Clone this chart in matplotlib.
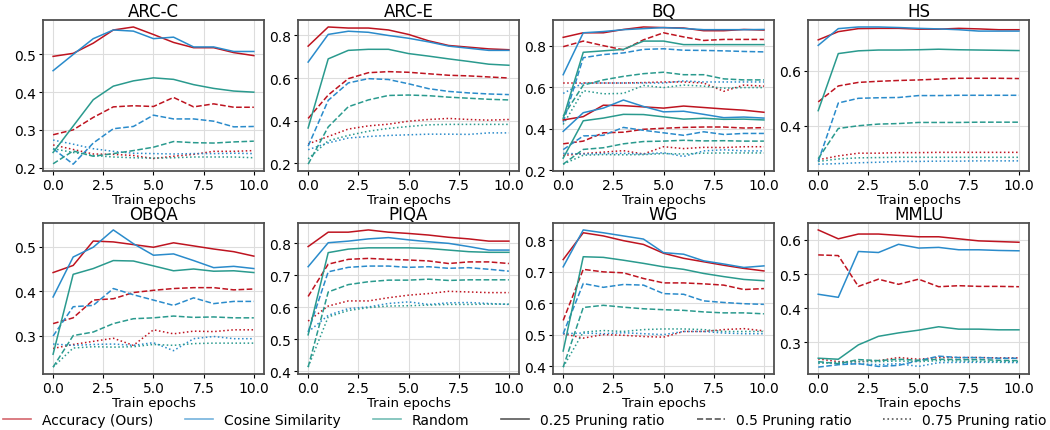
import matplotlib.pyplot as plt
from matplotlib.lines import Line2D

epochs = list(range(11))
ratios = [0.25, 0.5, 0.75]
styles = ['-', '--', ':']
methods = ["Accuracy (Ours)", "Cosine Similarity", "Random"]
colors = ["#be1420", "#2a8bcb", "#2a9a8e"]
titles = ["ARC-C", "ARC-E", "BQ", "HS", "OBQA", "PIQA", "WG", "MMLU"]

# each method: rows = pruning ratio 0.25 / 0.5 / 0.75
arcc_acc = [[0.495, 0.503, 0.53, 0.565, 0.573, 0.553, 0.532, 0.518, 0.518, 0.505, 0.497],
            [0.287, 0.30, 0.333, 0.361, 0.364, 0.362, 0.386, 0.361, 0.369, 0.36, 0.36],
            [0.26, 0.248, 0.236, 0.235, 0.232, 0.224, 0.23, 0.235, 0.243, 0.243, 0.245]]
arcc_cos = [[0.457, 0.5, 0.542, 0.565, 0.562, 0.542, 0.546, 0.52, 0.52, 0.508, 0.508],
            [0.25, 0.209, 0.265, 0.303, 0.309, 0.339, 0.329, 0.329, 0.323, 0.308, 0.309],
            [0.273, 0.262, 0.25, 0.243, 0.238, 0.237, 0.236, 0.237, 0.237, 0.238, 0.237]]
arcc_rand = [[0.24, 0.31, 0.38, 0.416, 0.43, 0.438, 0.434, 0.42, 0.41, 0.403, 0.40],
             [0.21, 0.244, 0.23, 0.237, 0.245, 0.254, 0.269, 0.266, 0.265, 0.268, 0.27],
             [0.25, 0.24, 0.232, 0.228, 0.226, 0.225, 0.226, 0.228, 0.228, 0.228, 0.226]]

arce_acc = [[0.75, 0.84, 0.835, 0.835, 0.826, 0.805, 0.775, 0.753, 0.745, 0.737, 0.733],
            [0.41, 0.52, 0.597, 0.625, 0.63, 0.627, 0.62, 0.613, 0.61, 0.605, 0.60],
            [0.29, 0.325, 0.36, 0.375, 0.383, 0.397, 0.405, 0.41, 0.405, 0.402, 0.405]]
arce_cos = [[0.675, 0.805, 0.82, 0.815, 0.80, 0.787, 0.77, 0.75, 0.74, 0.73, 0.73],
            [0.28, 0.495, 0.577, 0.597, 0.593, 0.573, 0.55, 0.537, 0.53, 0.525, 0.522],
            [0.263, 0.295, 0.318, 0.325, 0.33, 0.333, 0.336, 0.336, 0.335, 0.342, 0.342]]
arce_rand = [[0.365, 0.69, 0.73, 0.735, 0.735, 0.715, 0.703, 0.69, 0.678, 0.665, 0.66],
             [0.195, 0.37, 0.465, 0.497, 0.518, 0.52, 0.517, 0.51, 0.505, 0.5, 0.497],
             [0.22, 0.305, 0.33, 0.35, 0.363, 0.372, 0.38, 0.382, 0.382, 0.382, 0.382]]

bq_acc = [[0.84, 0.862, 0.862, 0.878, 0.89, 0.887, 0.885, 0.872, 0.872, 0.878, 0.875],
          [0.795, 0.822, 0.80, 0.78, 0.828, 0.862, 0.842, 0.825, 0.83, 0.83, 0.83],
          [0.62, 0.62, 0.62, 0.62, 0.622, 0.625, 0.625, 0.62, 0.58, 0.61, 0.605]]
bq_cos = [[0.66, 0.862, 0.868, 0.877, 0.882, 0.887, 0.883, 0.877, 0.877, 0.877, 0.878],
          [0.43, 0.742, 0.757, 0.765, 0.782, 0.785, 0.778, 0.777, 0.775, 0.772, 0.77],
          [0.57, 0.62, 0.62, 0.62, 0.62, 0.62, 0.63, 0.625, 0.625, 0.625, 0.625]]
bq_rand = [[0.45, 0.768, 0.775, 0.782, 0.822, 0.822, 0.805, 0.805, 0.805, 0.805, 0.805],
           [0.46, 0.61, 0.635, 0.652, 0.665, 0.672, 0.66, 0.66, 0.64, 0.635, 0.635],
           [0.42, 0.583, 0.568, 0.57, 0.608, 0.598, 0.61, 0.605, 0.595, 0.598, 0.598]]

hs_acc = [[0.713, 0.743, 0.754, 0.755, 0.755, 0.752, 0.752, 0.755, 0.753, 0.75, 0.75],
          [0.487, 0.545, 0.558, 0.562, 0.565, 0.567, 0.57, 0.573, 0.573, 0.573, 0.572],
          [0.276, 0.29, 0.30, 0.30, 0.302, 0.302, 0.303, 0.303, 0.303, 0.303, 0.303]]
hs_cos = [[0.693, 0.754, 0.76, 0.76, 0.758, 0.755, 0.753, 0.75, 0.745, 0.745, 0.745],
          [0.27, 0.483, 0.50, 0.502, 0.503, 0.51, 0.51, 0.511, 0.511, 0.511, 0.511],
          [0.26, 0.262, 0.265, 0.267, 0.27, 0.27, 0.271, 0.271, 0.272, 0.272, 0.272]]
hs_rand = [[0.455, 0.663, 0.673, 0.676, 0.676, 0.677, 0.679, 0.677, 0.676, 0.675, 0.674],
           [0.28, 0.39, 0.40, 0.406, 0.408, 0.412, 0.412, 0.412, 0.413, 0.413, 0.413],
           [0.27, 0.279, 0.283, 0.284, 0.285, 0.285, 0.285, 0.285, 0.285, 0.285, 0.285]]

obqa_acc = [[0.442, 0.458, 0.513, 0.511, 0.505, 0.499, 0.509, 0.502, 0.495, 0.489, 0.479],
            [0.327, 0.34, 0.38, 0.383, 0.397, 0.402, 0.406, 0.408, 0.408, 0.403, 0.405],
            [0.271, 0.28, 0.287, 0.294, 0.278, 0.313, 0.304, 0.31, 0.309, 0.313, 0.313]]
obqa_cos = [[0.387, 0.477, 0.499, 0.538, 0.507, 0.481, 0.484, 0.469, 0.453, 0.456, 0.451],
            [0.299, 0.365, 0.368, 0.406, 0.392, 0.38, 0.368, 0.385, 0.372, 0.377, 0.377],
            [0.281, 0.278, 0.28, 0.281, 0.278, 0.284, 0.266, 0.293, 0.298, 0.293, 0.293]]
obqa_rand = [[0.258, 0.438, 0.451, 0.469, 0.468, 0.457, 0.446, 0.45, 0.445, 0.446, 0.442],
             [0.229, 0.30, 0.308, 0.327, 0.338, 0.34, 0.344, 0.341, 0.342, 0.34, 0.34],
             [0.229, 0.272, 0.275, 0.274, 0.275, 0.28, 0.278, 0.282, 0.283, 0.283, 0.283]]

piqa_acc = [[0.79, 0.835, 0.835, 0.842, 0.835, 0.831, 0.826, 0.819, 0.814, 0.807, 0.807],
            [0.634, 0.735, 0.75, 0.753, 0.75, 0.748, 0.745, 0.737, 0.742, 0.742, 0.737],
            [0.557, 0.604, 0.62, 0.62, 0.63, 0.638, 0.643, 0.65, 0.648, 0.646, 0.646]]
piqa_cos = [[0.727, 0.802, 0.807, 0.814, 0.818, 0.811, 0.805, 0.80, 0.79, 0.779, 0.779],
            [0.523, 0.711, 0.725, 0.729, 0.729, 0.725, 0.727, 0.722, 0.724, 0.719, 0.713],
            [0.523, 0.575, 0.596, 0.601, 0.612, 0.617, 0.609, 0.614, 0.615, 0.612, 0.609]]
piqa_rand = [[0.514, 0.771, 0.782, 0.786, 0.786, 0.786, 0.784, 0.779, 0.774, 0.772, 0.772],
             [0.413, 0.648, 0.671, 0.68, 0.685, 0.685, 0.688, 0.684, 0.686, 0.686, 0.686],
             [0.413, 0.57, 0.59, 0.599, 0.604, 0.605, 0.607, 0.609, 0.609, 0.61, 0.61]]

wg_acc = [[0.738, 0.823, 0.813, 0.798, 0.786, 0.758, 0.742, 0.731, 0.72, 0.71, 0.702],
          [0.545, 0.707, 0.699, 0.696, 0.678, 0.664, 0.664, 0.661, 0.657, 0.643, 0.646],
          [0.503, 0.489, 0.5, 0.498, 0.494, 0.492, 0.51, 0.51, 0.516, 0.519, 0.512]]
wg_cos = [[0.715, 0.832, 0.823, 0.813, 0.803, 0.76, 0.755, 0.734, 0.724, 0.713, 0.718],
          [0.503, 0.662, 0.65, 0.659, 0.657, 0.63, 0.628, 0.607, 0.602, 0.598, 0.596],
          [0.503, 0.505, 0.503, 0.506, 0.503, 0.5, 0.51, 0.51, 0.505, 0.503, 0.503]]
wg_rand = [[0.448, 0.747, 0.745, 0.736, 0.726, 0.715, 0.707, 0.694, 0.684, 0.675, 0.671],
           [0.397, 0.586, 0.593, 0.587, 0.582, 0.579, 0.577, 0.572, 0.569, 0.569, 0.566],
           [0.397, 0.508, 0.513, 0.51, 0.516, 0.518, 0.518, 0.516, 0.51, 0.51, 0.51]]

mmlu_acc = [[0.629, 0.603, 0.617, 0.617, 0.613, 0.609, 0.609, 0.603, 0.597, 0.595, 0.593],
            [0.556, 0.554, 0.464, 0.485, 0.47, 0.485, 0.463, 0.466, 0.464, 0.464, 0.463],
            [0.252, 0.244, 0.244, 0.247, 0.256, 0.251, 0.256, 0.256, 0.256, 0.255, 0.255]]
mmlu_cos = [[0.441, 0.432, 0.566, 0.563, 0.587, 0.576, 0.578, 0.571, 0.571, 0.569, 0.568],
            [0.228, 0.235, 0.238, 0.23, 0.233, 0.247, 0.26, 0.256, 0.256, 0.254, 0.254],
            [0.242, 0.239, 0.238, 0.235, 0.238, 0.23, 0.241, 0.242, 0.242, 0.242, 0.241]]
mmlu_rand = [[0.254, 0.251, 0.293, 0.318, 0.328, 0.336, 0.346, 0.339, 0.339, 0.337, 0.337],
             [0.244, 0.238, 0.25, 0.247, 0.251, 0.248, 0.251, 0.25, 0.25, 0.248, 0.247],
             [0.239, 0.242, 0.244, 0.244, 0.246, 0.244, 0.247, 0.246, 0.245, 0.244, 0.244]]

# BQ panel in the original also carries the OBQA curves
panels = [
    [(arcc_acc, arcc_cos, arcc_rand)],
    [(arce_acc, arce_cos, arce_rand)],
    [(bq_acc, bq_cos, bq_rand), (obqa_acc, obqa_cos, obqa_rand)],
    [(hs_acc, hs_cos, hs_rand)],
    [(obqa_acc, obqa_cos, obqa_rand)],
    [(piqa_acc, piqa_cos, piqa_rand)],
    [(wg_acc, wg_cos, wg_rand)],
    [(mmlu_acc, mmlu_cos, mmlu_rand)],
]

fig, axes = plt.subplots(2, 4, figsize=(10.5, 4.31), dpi=100)
fig.subplots_adjust(left=0.041, right=0.98, top=0.951, bottom=0.13,
                    wspace=0.155, hspace=0.345)

for ax, title, groups in zip(axes.flat, titles, panels):
    for group in groups:
        for series, color in zip(group, colors):
            for vals, ls in zip(series, styles):
                ax.plot(epochs, vals, color=color, linestyle=ls, linewidth=1.1)
    ax.set_title(title, fontsize=12, pad=3)
    ax.set_xlabel("Train epochs", fontsize=9.5, labelpad=1)
    ax.tick_params(labelsize=10, length=3, pad=2)
    ax.grid(True, color='#dddddd', linewidth=0.8)
    ax.set_axisbelow(True)
    for s in ax.spines.values():
        s.set_color('#505050')
        s.set_linewidth(1.3)

handles = [Line2D([], [], color=c, alpha=0.65, linewidth=1.2) for c in colors]
handles += [Line2D([], [], color='black', linestyle=ls, alpha=0.65, linewidth=1.2) for ls in styles]
labels = methods + [f"{r} Pruning ratio" for r in ratios]
fig.legend(handles, labels, loc='lower center', ncol=6, frameon=False,
           fontsize=10, bbox_to_anchor=(0.5, -0.022), columnspacing=2.3,
           handlelength=2.0, handletextpad=0.8)

fig.savefig("out.png", dpi=100)
